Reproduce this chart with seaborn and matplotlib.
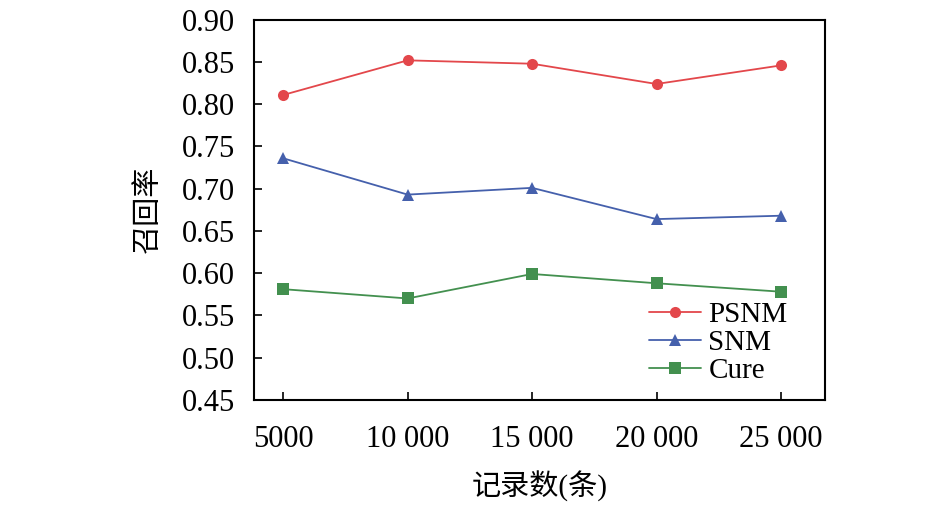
import pandas as pd
import numpy as np
import matplotlib
matplotlib.use("Agg")
import matplotlib.pyplot as plt
import seaborn as sns

# data
records = [5000, 10000, 15000, 20000, 25000]
psnm = [0.811, 0.852, 0.848, 0.824, 0.846]
snm = [0.736, 0.693, 0.701, 0.664, 0.668]
cure = [0.581, 0.570, 0.599, 0.588, 0.578]
methods = ["PSNM", "SNM", "Cure"]
xtick_labels = ["5000", "10 000", "15 000", "20 000", "25 000"]
yticks = [0.45, 0.50, 0.55, 0.60, 0.65, 0.70, 0.75, 0.80, 0.85, 0.90]

df = pd.DataFrame({
    "records": records * 3,
    "recall": psnm + snm + cure,
    "method": [m for m in methods for _ in records],
})

sns.set_style("ticks")
plt.rcParams["font.family"] = ["Liberation Serif", "Noto Sans CJK SC"]
plt.rcParams["xtick.direction"] = "in"
plt.rcParams["ytick.direction"] = "in"
plt.rcParams["text.color"] = "black"
plt.rcParams["axes.labelcolor"] = "black"

fig = plt.figure(figsize=(9.45, 5.08), dpi=100)
ax = fig.add_axes([0.269, 0.213, 0.604, 0.748])

palette = {"PSNM": "#e3474b", "SNM": "#4560ac", "Cure": "#43904f"}
markers = {"PSNM": "o", "SNM": "^", "Cure": "s"}
sns.lineplot(data=df, x="records", y="recall", hue="method", style="method",
             palette=palette, markers=markers, dashes=False, markersize=8,
             linewidth=1.3, markeredgewidth=0, ax=ax)

ax.set_xlim(3835, 26770)
ax.set_ylim(0.45, 0.90)
ax.set_xticks(records)
ax.set_xticklabels(xtick_labels)
ax.set_yticks(yticks)
ax.set_yticklabels([f"{v:.2f}" for v in yticks])
ax.tick_params(axis="both", labelsize=22, length=6, width=1.2, colors="black")
ax.tick_params(axis="x", pad=18)
ax.tick_params(axis="y", pad=14)
for s in ax.spines.values():
    s.set_linewidth(1.5)
    s.set_color("black")

ax.set_xlabel("记录数(条)", fontsize=21, labelpad=12)
ax.set_ylabel("召回率", fontsize=21, labelpad=14)

leg = ax.legend(loc="lower right", bbox_to_anchor=(0.965, -0.005), frameon=False,
                fontsize=21, handlelength=1.8, handletextpad=0.25,
                labelspacing=0.05, borderaxespad=0.2)

fig.savefig("out.png", dpi=100)
